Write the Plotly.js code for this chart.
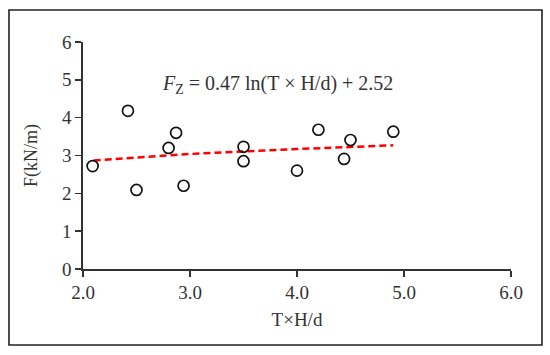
<!DOCTYPE html>
<html>
<head>
<meta charset="utf-8">
<script src="https://cdn.plot.ly/plotly-3.0.1.min.js"></script>
<style>html,body{margin:0;padding:0;background:#fff;}#chart{width:550px;height:355px;}</style>
</head>
<body>
<div id="chart"></div>
<script>
const xVals = [2.09, 2.42, 2.5, 2.80, 2.87, 2.94, 3.5, 3.5, 4.0, 4.2, 4.44, 4.5, 4.9];
const yVals = [2.72, 4.18, 2.09, 3.20, 3.60, 2.20, 3.23, 2.85, 2.60, 3.68, 2.91, 3.41, 3.63];
const fitX = [2.1, 3.0, 4.0, 4.9];
const fitY = [2.87, 3.04, 3.17, 3.27];
const xTicks = [2, 3, 4, 5, 6];
const xTickText = ["2.0", "3.0", "4.0", "5.0", "6.0"];
const yTicks = [0, 1, 2, 3, 4, 5, 6];
const equation = "<i>F</i><sub>Z</sub> = 0.47 ln(T × H/d) + 2.52";

const serif = "Liberation Serif, Times New Roman, serif";
const data = [
  {x: fitX, y: fitY, mode: "lines", type: "scatter",
   line: {color: "#ff0000", width: 2.5, dash: "7px,4px"}, hoverinfo: "skip"},
  {x: xVals, y: yVals, mode: "markers", type: "scatter",
   marker: {symbol: "circle-open", size: 11, color: "#111", line: {width: 1.7, color: "#111"}}}
];
const layout = {
  width: 550, height: 355,
  margin: {l: 83, r: 39, t: 42, b: 86},
  paper_bgcolor: "#fff", plot_bgcolor: "#fff",
  showlegend: false,
  font: {family: serif, color: "#333", size: 19},
  xaxis: {range: [2, 6], tickvals: xTicks, ticktext: xTickText,
    showgrid: false, zeroline: false, showline: true, linecolor: "#333", linewidth: 1.6,
    ticks: "outside", ticklen: 6, tickwidth: 1.6, tickcolor: "#333",
    tickfont: {family: serif, size: 19, color: "#333"},
    title: {text: "T×H/d", font: {family: serif, size: 19, color: "#333"}, standoff: 10}},
  yaxis: {range: [0, 6], tickvals: yTicks,
    showgrid: false, zeroline: false, showline: true, linecolor: "#333", linewidth: 1.6,
    ticks: "outside", ticklen: 6, tickwidth: 1.6, tickcolor: "#333",
    tickfont: {family: serif, size: 19, color: "#333"},
    title: {text: "F(kN/m)", font: {family: serif, size: 18, color: "#333"}, standoff: 20}},
  annotations: [{x: 2.72, y: 4.87, xref: "x", yref: "y", text: equation, showarrow: false,
    xanchor: "left", yanchor: "middle", font: {family: serif, size: 20, color: "#333"}}],
  shapes: [{type: "rect", xref: "paper", yref: "paper",
    x0: -0.1729, x1: 1.0724, y0: -0.3348, y1: 1.141,
    line: {color: "#222", width: 1.6}}]
};
Plotly.newPlot("chart", data, layout, {displayModeBar: false, staticPlot: true});
</script>
</body>
</html>
